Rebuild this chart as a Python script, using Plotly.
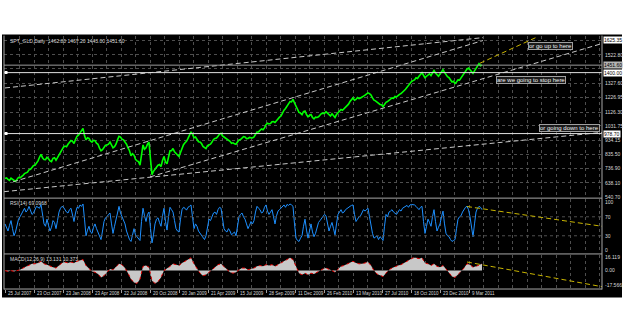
import plotly.graph_objects as go

W, H = 625, 336

# ---------------- data ----------------
price = [668,672,662,655,670,662,650,648,662,676,672,678,690,702,705,712,728,732,745,758,
         760,772,790,815,835,812,800,798,815,805,790,785,808,812,795,812,830,845,870,885,
         892,888,905,922,930,925,910,938,960,968,985,1002,1015,965,935,950,945,928,920,932,
         930,912,905,878,860,868,885,898,900,905,920,895,880,888,905,935,960,955,940,935,
         920,905,880,860,825,840,830,800,790,785,760,850,900,870,880,905,920,800,695,718,
         735,748,760,765,750,792,820,782,770,815,860,860,875,852,840,835,820,848,880,902,
         915,925,945,970,990,975,950,955,940,922,920,910,890,880,875,895,900,905,920,938,
         945,948,960,975,980,962,955,948,935,932,925,912,915,908,905,920,935,938,950,958,
         955,944,945,952,950,948,955,978,990,990,1000,1010,1005,1018,1040,1050,1045,1048,1060,1062,
         1055,1070,1080,1092,1100,1122,1140,1152,1170,1188,1200,1198,1215,1190,1165,1148,1125,1120,1110,1130,
         1135,1110,1095,1105,1110,1090,1080,1092,1090,1095,1105,1118,1120,1118,1130,1118,1105,1100,1115,1098,
         1090,1110,1120,1128,1145,1140,1150,1165,1170,1182,1200,1215,1225,1210,1215,1228,1220,1225,1235,1238,
         1245,1252,1260,1255,1245,1225,1210,1205,1195,1185,1180,1178,1165,1180,1195,1200,1210,1220,1225,1222,
         1235,1232,1245,1250,1255,1262,1275,1285,1300,1310,1325,1338,1345,1350,1365,1360,1375,1392,1400,1382,
         1365,1375,1385,1392,1380,1400,1415,1398,1385,1375,1390,1408,1420,1402,1385,1372,1365,1350,1335,1340,
         1325,1335,1350,1348,1365,1380,1390,1410,1425,1432,1420,1410,1395,1412,1430,1445,1462,1448,1452]

rsi = [55,48,40,52,62,45,30,38,55,65,70,76,85,88,80,84,92,82,75,78,
       85,92,90,88,96,70,55,50,65,52,40,48,62,58,45,62,80,88,92,90,
       85,80,78,85,88,72,60,78,90,88,95,92,97,65,30,42,50,38,35,48,
       55,45,38,28,22,40,60,68,70,75,78,55,35,50,65,80,92,78,70,62,
       55,40,30,22,18,35,45,32,28,25,20,60,88,72,60,75,80,45,15,32,
       55,65,68,58,50,72,88,60,42,70,90,85,80,62,45,40,38,65,85,90,
       88,84,90,92,95,70,45,55,50,40,35,30,25,22,30,50,65,62,72,78,
       80,75,85,90,88,62,45,40,38,45,40,32,35,38,30,52,70,75,78,70,
       65,55,45,52,60,55,62,80,92,88,85,78,80,90,95,82,75,80,85,70,
       55,72,82,85,88,92,95,90,96,94,97,95,92,55,25,20,18,25,30,50,
       65,42,25,40,55,38,28,35,48,58,62,66,70,75,72,55,40,50,58,45,
       32,55,75,80,85,78,80,85,88,90,92,94,95,75,60,65,70,72,80,85,
       82,86,88,70,50,35,25,28,30,22,28,25,20,50,75,70,80,82,85,80,
       78,75,80,85,82,88,90,92,94,90,95,96,96,95,92,88,85,90,92,60,
       35,50,65,58,50,70,85,60,40,48,55,70,82,55,35,30,28,22,18,20,
       22,45,65,70,72,80,85,90,92,85,70,45,28,55,80,88,92,90,85]

macd = [0,-1,0,-1,0,1,3,5,7,8,
        8,9,11,8,7,5,4,3,6,9,
        10,9,10,9,11,12,13,6,3,-1,
        -2,-4,-8,-6,-2,2,1,4,8,7,
        3,-3,-10,-14,-15,-10,5,6,4,-12,
        -15,-13,-8,0,2,5,8,7,6,9,
        11,13,15,8,2,-3,-6,-5,-2,1,
        4,7,8,5,1,-2,-3,-2,1,3,
        3,1,2,3,5,6,5,7,6,7,
        5,7,9,12,14,15,13,4,-3,-5,
        -3,-5,-3,-4,-2,0,2,3,1,0,
        -2,2,5,6,8,10,11,9,8,8,
        9,10,6,0,-4,-6,-7,-3,1,3,
        5,6,7,9,11,13,15,15,14,15,
        9,8,6,8,5,4,6,2,-3,-7,
        -8,-5,-1,3,8,7,4,5,7,8]

line_step = 3      # bars between price / RSI samples
macd_step = 6      # bars between MACD samples
bars = [line_step * i for i in range(len(price))]
macd_bars = [macd_step * i for i in range(len(macd))]

date_labels = ["25 Jul 2007","23 Oct 2007","23 Jan 2008","23 Apr 2008","22 Jul 2008",
               "20 Oct 2008","20 Jan 2009","21 Apr 2009","15 Jul 2009","28 Sep 2009",
               "11 Dec 2009","26 Feb 2010","13 May 2010","27 Jul 2010","18 Oct 2010",
               "23 Dec 2010","9 Mar 2011"]
label_every = 58
date_bars = [label_every * k for k in range(len(date_labels))]

price_ticks = [540.70,638.10,736.90,835.50,934.15,1031.75,1126.30,1226.95,1327.60,1426.20,1522.80,1625.35]
price_tick_text = ["540.70","638.10","736.90","835.50","934.15","1031.75","1126.30","1226.95","1327.60","","1522.80",""]
rsi_ticks = [0, 30, 70, 100]
rsi_levels = [30, 70]
macd_ticks = [-17.566, 0, 16.119]
macd_tick_text = ["-17.566", "0.00", "16.119"]

bid = 1451.60
hlines = [1400.00, 978.70]

white_trends = [([0, 956], [1294, 1642]),
                ([16, 956], [645, 1622]),
                ([290, 1194], [679, 1601]),
                ([-2, 1194], [577, 987])]
yellow_main = ([950, 1066], [1465, 1649])
yellow_rsi = ([924, 1194], [91.7, 50])
yellow_macd = ([924, 1194], [10.1, -18.9])

# ---------------- figure ----------------
def px(x): return x / W
def py(y): return 1 - y / H

GRID = "#4e4e4e"
TXT = "#d8d8d8"
FONT = "Liberation Sans"
XMAX = 1194

fig = go.Figure()

fig.add_trace(go.Scatter(x=bars, y=price, mode="lines", line=dict(color="#00ff00", width=1.6),
                         xaxis="x", yaxis="y", hoverinfo="skip"))
for bx, by in white_trends:
    fig.add_trace(go.Scatter(x=bx, y=by, mode="lines", line=dict(color="#c8c8c8", width=1, dash="5px,3px"),
                             xaxis="x", yaxis="y", hoverinfo="skip"))
fig.add_trace(go.Scatter(x=yellow_main[0], y=yellow_main[1], mode="lines",
                         line=dict(color="#c8b400", width=1, dash="5px,3px"), xaxis="x", yaxis="y"))
fig.add_trace(go.Scatter(x=[-2, XMAX], y=[bid, bid], mode="lines", line=dict(color="#9a9a9a", width=1),
                         xaxis="x", yaxis="y"))
for h in hlines:
    fig.add_trace(go.Scatter(x=[-2, XMAX], y=[h, h], mode="lines", line=dict(color="#e0e0e0", width=1),
                             xaxis="x", yaxis="y"))
fig.add_trace(go.Scatter(x=[2] * len(hlines), y=hlines, mode="markers",
                         marker=dict(symbol="square", size=3, color="white"), xaxis="x", yaxis="y"))

# RSI
fig.add_trace(go.Scatter(x=bars, y=rsi, mode="lines", line=dict(color="#1e90ff", width=1),
                         xaxis="x", yaxis="y2"))
for lv in rsi_levels:
    fig.add_trace(go.Scatter(x=[-2, XMAX], y=[lv, lv], mode="lines", line=dict(color=GRID, width=1, dash="dot"),
                             xaxis="x", yaxis="y2"))
fig.add_trace(go.Scatter(x=yellow_rsi[0], y=yellow_rsi[1], mode="lines",
                         line=dict(color="#c8b400", width=1, dash="5px,3px"), xaxis="x", yaxis="y2"))

# MACD
fig.add_trace(go.Scatter(x=macd_bars, y=macd, mode="lines", fill="tozeroy", fillcolor="#c8c8c8",
                         line=dict(color="#e00000", width=1, dash="dot"), xaxis="x", yaxis="y3"))
fig.add_trace(go.Scatter(x=yellow_macd[0], y=yellow_macd[1], mode="lines",
                         line=dict(color="#c8b400", width=1, dash="5px,3px"), xaxis="x", yaxis="y3"))

tickfont = dict(family=FONT, size=5, color=TXT)

fig.update_layout(
    width=W, height=H, margin=dict(l=0, r=0, t=0, b=0), autosize=False,
    paper_bgcolor="white", plot_bgcolor="black", showlegend=False,
    xaxis=dict(domain=[px(4), px(602)], range=[-2, XMAX], anchor="y3",
               tickmode="array", tickvals=date_bars, ticktext=[""] * len(date_bars),
               ticks="outside", ticklen=3, tickcolor="#a0a0a0",
               showgrid=True, gridcolor=GRID, griddash="dot", gridwidth=1,
               minor=dict(dtick=29, tick0=0, showgrid=True, gridcolor=GRID, griddash="dot", ticks=""),
               zeroline=False, showline=False),
    yaxis=dict(domain=[py(198.3), py(35)], range=[540.7, 1656], side="right", anchor="x",
               tickmode="array", tickvals=price_ticks, ticktext=price_tick_text, tickfont=tickfont,
               showgrid=True, gridcolor=GRID, griddash="dot", zeroline=False, ticks="", ticklabelstandoff=2),
    yaxis2=dict(domain=[py(255), py(200)], range=[-6.25, 108.3], side="right", anchor="x",
                tickmode="array", tickvals=rsi_ticks, tickfont=tickfont,
                showgrid=False, zeroline=False, ticks="", ticklabelstandoff=2),
    yaxis3=dict(domain=[py(291), py(257)], range=[-21.05, 18.4], side="right", anchor="x",
                tickmode="array", tickvals=macd_ticks, ticktext=macd_tick_text, tickfont=tickfont,
                showgrid=False, zeroline=False, ticks="", ticklabelstandoff=2),
)

shapes = [
    dict(type="rect", xref="paper", yref="paper", x0=px(2), x1=px(622), y0=py(300), y1=py(34),
         fillcolor="black", line=dict(width=0), layer="below"),
]
for yy in [199.5, 256, 291.5]:
    shapes.append(dict(type="line", xref="paper", yref="paper", x0=px(4), x1=px(602), y0=py(yy), y1=py(yy),
                       line=dict(color="#a8a8a8", width=1)))
for xx in [4, 602]:
    shapes.append(dict(type="line", xref="paper", yref="paper", x0=px(xx), x1=px(xx), y0=py(292), y1=py(35),
                       line=dict(color="#a8a8a8", width=1)))
fig.update_layout(shapes=shapes)

ann = []
small = dict(family=FONT, size=5, color=TXT)
datefont = dict(family=FONT, size=4.5, color=TXT)
ann.append(dict(text="SPT_GLD,Daily  1462.80 1467.20 1443.00 1451.60", xref="paper", yref="paper",
                x=px(8), y=py(40), xanchor="left", yanchor="middle", showarrow=False, font=small))
ann.append(dict(text="RSI(14) 69.0968", xref="paper", yref="paper",
                x=px(8), y=py(204), xanchor="left", yanchor="middle", showarrow=False, font=small))
ann.append(dict(text="MACD(12,26,9) 13.131 10.373", xref="paper", yref="paper",
                x=px(8), y=py(261), xanchor="left", yanchor="middle", showarrow=False, font=small))
for b, t in zip(date_bars, date_labels):
    ann.append(dict(text=t, x=b, xref="x", y=py(296), yref="paper", xanchor="left", yanchor="middle",
                    xshift=0.5, showarrow=False, font=datefont))
for val, txt, bg in [(bid, "1451.60", "#b4b4b4"), (1400.00, "1400.00", "#ffffff"),
                     (978.70, "978.70", "#ffffff"), (1625.35, "1625.35", "#ffffff")]:
    ann.append(dict(text=txt, x=px(603), xref="paper", y=val, yref="y", xanchor="left", yanchor="middle",
                    showarrow=False, bgcolor=bg, borderpad=0,
                    font=dict(family=FONT, size=5, color="black")))
boxfont = dict(family=FONT, size=6, color="#f0f0f0")
for txt, cx, cy in [("or go up to here", 550, 46), ("are we going to stop here", 531, 80),
                    ("or going down to here", 569, 129)]:
    ann.append(dict(text=txt, xref="paper", yref="paper", x=px(cx), y=py(cy), xanchor="center",
                    yanchor="middle", showarrow=False, font=boxfont, bgcolor="#1a1a1a",
                    bordercolor="#a0a0a0", borderwidth=1, borderpad=0))
fig.update_layout(annotations=ann)

fig.write_html("out.html")
